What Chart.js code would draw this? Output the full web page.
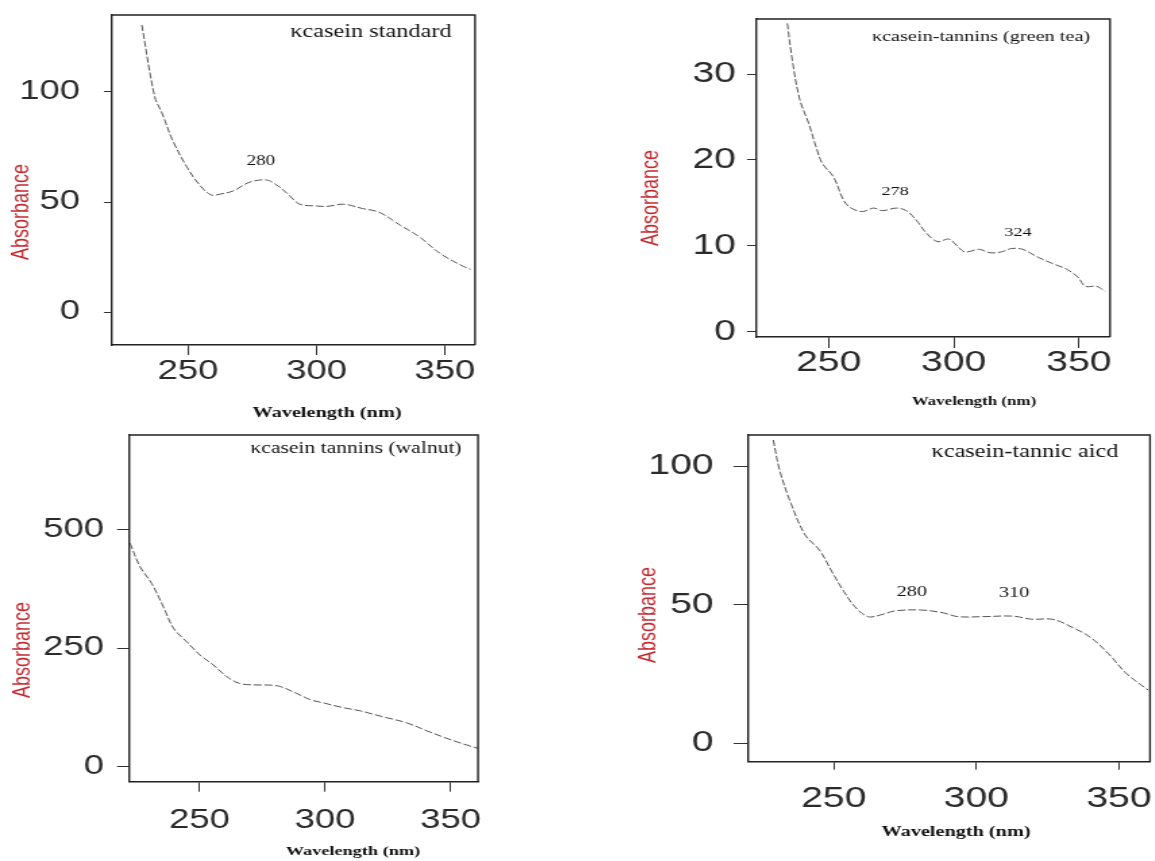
<!DOCTYPE html>
<html>
<head>
<meta charset="utf-8">
<script src="https://cdn.jsdelivr.net/npm/chart.js@4.4.0/dist/chart.umd.min.js"></script>
<style>
  html, body { margin: 0; padding: 0; background: #fff; }
  #page { position: relative; width: 1155px; height: 861px; overflow: hidden; background: #fff; }
  .panel { position: absolute; transform-origin: 0 0; transform: scaleX(1.35); }
  .panel canvas { display: block; }
</style>
</head>
<body>
<div id="page">
  <div class="panel" id="p1"><canvas></canvas></div>
  <div class="panel" id="p2"><canvas></canvas></div>
  <div class="panel" id="p3"><canvas></canvas></div>
  <div class="panel" id="p4"><canvas></canvas></div>
</div>
<script>
// kcasein standard
const stdWavelength = [232, 237, 240, 244, 249.5, 254.5, 259, 262.5, 267.5, 274, 280.5, 284.5, 288.5, 293.5, 300, 304, 310.5, 318, 324.5, 332.5, 340, 348, 356, 360];
const stdAbsorbance = [130.5, 98, 90, 78, 66, 57.7, 53.2, 53.6, 55, 59, 60, 57.7, 54, 49, 48.2, 48, 49, 47, 45.3, 39.5, 34.2, 26.7, 21.4, 19.4];

// kcasein + green tea tannins
const teaWavelength = [233.5, 235.5, 238.5, 242, 245, 247.5, 252, 256, 259, 263.5, 268, 271.5, 277, 281, 285, 289, 293.5, 298, 301, 304.5, 310, 314.5, 319, 323, 327.5, 333.5, 339, 345, 349.5, 352.5, 357, 360.5];
const teaAbsorbance = [35.9, 31.6, 27, 24.3, 21.5, 19.6, 18, 15.3, 14.4, 14, 14.4, 14.1, 14.4, 14.1, 13, 11.5, 10.5, 10.8, 10.1, 9.3, 9.6, 9.2, 9.3, 9.7, 9.6, 8.7, 8, 7.3, 6.4, 5.3, 5.3, 4.7];

// kcasein + walnut tannins
const walnutWavelength = [222.4, 226.4, 231, 235.7, 239.7, 245, 250.3, 255.6, 261, 266, 271.5, 281, 287.5, 294, 300, 307, 314, 323, 332.5, 340.5, 348.5, 356.5, 361];
const walnutAbsorbance = [472, 422, 387, 337, 292, 263, 235, 214, 189, 175, 172, 170, 157, 141, 133, 124, 117, 104.5, 91.7, 74.8, 58.7, 44.5, 37.5];

// kcasein + tannic acid
const tannicWavelength = [228.8, 231, 235, 240, 245, 249.7, 253.6, 257.4, 262, 266.4, 271.6, 280.6, 288.3, 293.5, 302.5, 312.8, 319.2, 327, 333.3, 339.8, 346.2, 352.6, 360.3];
const tannicAbsorbance = [109.4, 98.6, 86.5, 75.1, 69.7, 61.3, 54.7, 49.3, 45.7, 46.3, 47.8, 48.1, 47.1, 45.7, 45.7, 45.9, 44.8, 44.7, 42, 38.4, 32.5, 25.2, 19.2];

const wavelengthTicks = [250, 300, 350];
const stdTicks = [0, 50, 100];
const teaTicks = [0, 10, 20, 30];
const walnutTicks = [0, 250, 500];
const tannicTicks = [0, 50, 100];

const panelTitles = ['κcasein standard', 'κcasein-tannins (green tea)', 'κcasein tannins (walnut)', 'κcasein-tannic aicd'];
const stdPeaks = ['280'];
const teaPeaks = ['278', '324'];
const tannicPeaks = ['280', '310'];
const xTitle = 'Wavelength (nm)';
const yTitle = 'Absorbance';

// the scanned figure is stretched sideways, so every canvas is too
const STRETCH = 1.35;
const serif = '"Liberation Serif", "Times New Roman", serif';
const sans = '"Liberation Sans", Arial, sans-serif';
const red = '#c42a30';

const framePlugin = {
  id: 'frame',
  afterDraw(chart) {
    const {ctx, chartArea: a} = chart;
    ctx.save();
    ctx.strokeStyle = '#222';
    ctx.lineWidth = 1.4;
    ctx.beginPath();
    ctx.moveTo(a.left, a.top);
    ctx.lineTo(a.right, a.top);
    ctx.lineTo(a.right, a.bottom);
    ctx.stroke();
    ctx.restore();
  }
};

const textPlugin = {
  id: 'panelText',
  afterDraw(chart, args, opts) {
    const ctx = chart.ctx;
    (opts.items || []).forEach(function (it) {
      ctx.save();
      ctx.translate(it.x, it.y);
      if (it.rotate) ctx.rotate(it.rotate);
      ctx.font = it.font;
      ctx.fillStyle = it.color || '#111';
      ctx.textAlign = 'center';
      ctx.textBaseline = 'middle';
      ctx.fillText(it.text, 0, 0);
      ctx.restore();
    });
  }
};

function makePanel(p) {
  const holder = document.getElementById(p.id);
  holder.style.left = p.ox + 'px';
  holder.style.top = p.oy + 'px';
  const canvas = holder.querySelector('canvas');
  const w = Math.round(p.w / STRETCH);
  canvas.width = w;
  canvas.height = p.h;
  canvas.style.width = w + 'px';
  canvas.style.height = p.h + 'px';

  const yw = (p.box.left - p.ox) / STRETCH;
  const xh = p.oy + p.h - p.box.bottom;
  const rightEdge = (p.box.right - p.ox) / STRETCH;

  // texts are given in page pixels, move them into this canvas
  const items = p.texts.map(function (t) {
    return {
      text: t.text, font: t.font, color: t.color, rotate: t.rotate,
      x: (t.x - p.ox) / STRETCH, y: t.y - p.oy
    };
  });

  new Chart(canvas, {
    type: 'line',
    data: {
      datasets: [{
        data: p.xs.map(function (x, i) { return {x: x, y: p.ys[i]}; }),
        borderColor: '#555',
        borderWidth: 1,
        borderDash: [6, 2],
        pointRadius: 0,
        tension: 0.35,
        fill: false
      }]
    },
    options: {
      responsive: false,
      animation: false,
      devicePixelRatio: 1,
      layout: {padding: {left: 0, top: p.box.top - p.oy, right: w - rightEdge, bottom: 0}},
      plugins: {
        legend: {display: false},
        tooltip: {enabled: false},
        panelText: {items: items}
      },
      scales: {
        x: {
          type: 'linear',
          min: p.xmin, max: p.xmax,
          afterBuildTicks: function (s) { s.ticks = wavelengthTicks.map(function (v) { return {value: v}; }); },
          afterFit: function (s) { s.height = xh; s.paddingLeft = 0; s.paddingRight = 0; },
          grid: {drawOnChartArea: false, drawTicks: true, tickLength: p.xTick, color: '#333', lineWidth: 1},
          border: {display: true, color: '#222', width: 1.4},
          ticks: {autoSkip: false, maxRotation: 0, padding: p.xPad, color: '#2a2a2a',
                  font: {family: sans, size: p.tickSize, lineHeight: 1}}
        },
        y: {
          type: 'linear',
          min: p.ymin, max: p.ymax,
          afterBuildTicks: function (s) { s.ticks = p.yTicks.map(function (v) { return {value: v}; }); },
          afterFit: function (s) { s.width = yw; s.paddingTop = 0; s.paddingBottom = 0; },
          grid: {drawOnChartArea: false, drawTicks: true, tickLength: p.yTick / STRETCH, color: '#333', lineWidth: 1},
          border: {display: true, color: '#222', width: 1.4},
          ticks: {autoSkip: false, padding: p.yPad / STRETCH, color: '#2a2a2a',
                  font: {family: sans, size: p.tickSize, lineHeight: 1}}
        }
      }
    },
    plugins: [framePlugin, textPlugin]
  });
}

makePanel({
  id: 'p1', ox: 0, oy: 0, w: 490, h: 422,
  box: {left: 112, top: 15, right: 475, bottom: 345},
  xmin: 220.4, xmax: 361.7, ymin: -15, ymax: 135,
  xs: stdWavelength, ys: stdAbsorbance, yTicks: stdTicks,
  tickSize: 27, xTick: 10, xPad: 3, yTick: 8, yPad: 24,
  texts: [
    {text: panelTitles[0], x: 371, y: 32, font: '18px ' + serif},
    {text: stdPeaks[0], x: 261, y: 161, font: '14px ' + serif},
    {text: yTitle, x: 22, y: 212, font: '18px ' + sans, color: red, rotate: -Math.PI / 2},
    {text: xTitle, x: 327, y: 413, font: 'bold 15px ' + serif}
  ]
});

makePanel({
  id: 'p2', ox: 600, oy: 0, w: 555, h: 420,
  box: {left: 756, top: 19, right: 1110, bottom: 337},
  xmin: 221, xmax: 362.4, ymin: -0.6, ymax: 36.4,
  xs: teaWavelength, ys: teaAbsorbance, yTicks: teaTicks,
  tickSize: 29, xTick: 11, xPad: 0, yTick: 9, yPad: 11,
  texts: [
    {text: panelTitles[1], x: 981, y: 37, font: '15px ' + serif},
    {text: teaPeaks[0], x: 895, y: 191, font: '13.5px ' + serif},
    {text: teaPeaks[1], x: 1018, y: 232, font: '13.5px ' + serif},
    {text: yTitle, x: 651, y: 198, font: '18px ' + sans, color: red, rotate: -Math.PI / 2},
    {text: xTitle, x: 974, y: 402, font: 'bold 12.5px ' + serif}
  ]
});

makePanel({
  id: 'p3', ox: 0, oy: 420, w: 500, h: 441,
  box: {left: 129, top: 435, right: 478, bottom: 781.7},
  xmin: 222, xmax: 360.9, ymin: -33, ymax: 701,
  xs: walnutWavelength, ys: walnutAbsorbance, yTicks: walnutTicks,
  tickSize: 27, xTick: 10, xPad: 15, yTick: 12, yPad: 13,
  texts: [
    {text: panelTitles[2], x: 356, y: 449, font: '16px ' + serif},
    {text: yTitle, x: 23, y: 650, font: '18px ' + sans, color: red, rotate: -Math.PI / 2},
    {text: xTitle, x: 353, y: 852, font: 'bold 13.5px ' + serif}
  ]
});

makePanel({
  id: 'p4', ox: 600, oy: 420, w: 555, h: 441,
  box: {left: 747.6, top: 435, right: 1150, bottom: 761.7},
  xmin: 219.8, xmax: 360.9, ymin: -6.6, ymax: 111.2,
  xs: tannicWavelength, ys: tannicAbsorbance, yTicks: tannicTicks,
  tickSize: 29, xTick: 8, xPad: 15, yTick: 14, yPad: 20,
  texts: [
    {text: panelTitles[3], x: 1025, y: 452, font: '18px ' + serif},
    {text: tannicPeaks[0], x: 912, y: 592, font: '15px ' + serif},
    {text: tannicPeaks[1], x: 1014, y: 593, font: '15px ' + serif},
    {text: yTitle, x: 648, y: 615, font: '18px ' + sans, color: red, rotate: -Math.PI / 2},
    {text: xTitle, x: 956, y: 832, font: 'bold 15px ' + serif}
  ]
});
</script>
</body>
</html>
